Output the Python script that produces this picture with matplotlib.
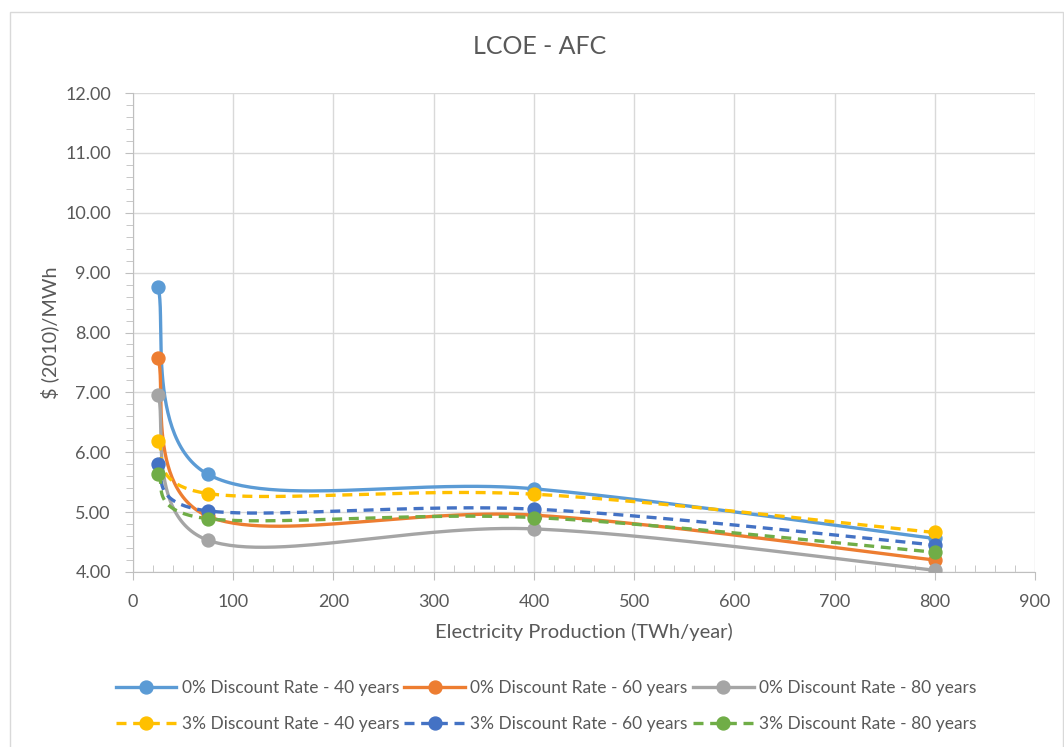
import numpy as np
import matplotlib.pyplot as plt
from matplotlib.patches import Rectangle

plt.rcParams['font.family'] = ['Lato', 'DejaVu Sans']

# data
production = [25, 75, 400, 800]
dr0_40 = [8.76, 5.63, 5.39, 4.56]
dr0_60 = [7.57, 4.93, 4.95, 4.20]
dr0_80 = [6.96, 4.53, 4.72, 4.03]
dr3_40 = [6.19, 5.31, 5.30, 4.66]
dr3_60 = [5.80, 5.02, 5.05, 4.45]
dr3_80 = [5.63, 4.89, 4.91, 4.33]

labels = ['0% Discount Rate - 40 years', '0% Discount Rate - 60 years',
          '0% Discount Rate - 80 years', '3% Discount Rate - 40 years',
          '3% Discount Rate - 60 years', '3% Discount Rate - 80 years']
series = [dr0_40, dr0_60, dr0_80, dr3_40, dr3_60, dr3_80]
colors = ['#5B9BD5', '#ED7D31', '#A5A5A5', '#FFC000', '#4472C4', '#70AD47']
styles = ['-', '-', '-', '--', '--', '--']


def smooth(x, y, n=60):
    # excel-like smoothed line (catmull-rom through the points)
    p = np.column_stack([x, y]).astype(float)
    p = np.vstack([p[0], p, p[-1]])
    out = []
    t = np.linspace(0, 1, n)[:, None]
    for i in range(1, len(p) - 2):
        p0, p3 = p[i], p[i + 1]
        c1 = p0 + (p[i + 1] - p[i - 1]) / 6
        c2 = p3 - (p[i + 2] - p[i]) / 6
        seg = ((1 - t) ** 3) * p0 + 3 * ((1 - t) ** 2) * t * c1 + 3 * (1 - t) * t ** 2 * c2 + t ** 3 * p3
        out.append(seg)
    out = np.vstack(out)
    return out[:, 0], out[:, 1]


fig = plt.figure(figsize=(10.64, 7.47), dpi=100)
ax = fig.add_axes([133 / 1064, 1 - 572 / 747, (1035 - 133) / 1064, (572 - 93) / 747])

handles = []
for vals, lab, col, ls in zip(series, labels, colors, styles):
    sx, sy = smooth(production, vals)
    ax.plot(sx, sy, color=col, lw=2.4, ls=ls, dashes=(3, 2) if ls == '--' else (None, None),
            zorder=3)
    ax.plot(production, vals, 'o', color=col, ms=9.3, zorder=4)
    h, = ax.plot([], [], color=col, lw=2.4, ls=ls, marker='o', ms=9.3, label=lab)
    if ls == '--':
        h.set_dashes((3, 2))
    handles.append(h)

ax.set_xlim(0, 900)
ax.set_ylim(4, 12)
ax.set_xticks(np.arange(0, 901, 100))
ax.set_yticks(np.arange(4, 12.01, 1))
ax.set_yticklabels(['%.2f' % v for v in np.arange(4, 12.01, 1)])
ax.set_xticks(np.arange(0, 901, 20), minor=True)
ax.set_yticks(np.arange(4, 12.01, 0.2), minor=True)
ax.grid(True, which='major', color='#D9D9D9', lw=1)
ax.set_axisbelow(True)
for s in ['top', 'right']:
    ax.spines[s].set_visible(False)
for s in ['left', 'bottom']:
    ax.spines[s].set_color('#BFBFBF')
ax.tick_params(which='major', length=6, direction='out', color='#BFBFBF',
               labelsize=13, labelcolor='#595959')
ax.tick_params(axis='x', which='major', pad=10)
ax.tick_params(axis='y', which='major', pad=10)
ax.tick_params(axis='x', which='minor', length=5, direction='in', color='#BFBFBF')
ax.tick_params(axis='y', which='minor', length=5, direction='out', color='#BFBFBF')

ax.set_xlabel('Electricity Production (TWh/year)', fontsize=14.5, color='#595959', labelpad=9)
ax.set_ylabel('$ (2010)/MWh', fontsize=14.3, color='#595959')
ax.yaxis.set_label_coords(-0.082, 0.5)
fig.text(0.5075, 1 - 47 / 747, 'LCOE - AFC', ha='center', va='center', fontsize=18, color='#595959')

order = [0, 3, 1, 4, 2, 5]
fig.legend([handles[i] for i in order], [labels[i] for i in order], ncol=3,
           loc='center', bbox_to_anchor=(546 / 1064, 1 - 706 / 747), frameon=False,
           fontsize=12.5, labelcolor='#595959', handlelength=3.5, handletextpad=0.3,
           columnspacing=0.3, labelspacing=1.15)

fig.patches.append(Rectangle((10 / 1064, -0.01), 1053 / 1064, 1 - 12 / 747 + 0.01,
                             transform=fig.transFigure, fill=False, ec='#D9D9D9', lw=1))

fig.savefig('out.png', dpi=100)
